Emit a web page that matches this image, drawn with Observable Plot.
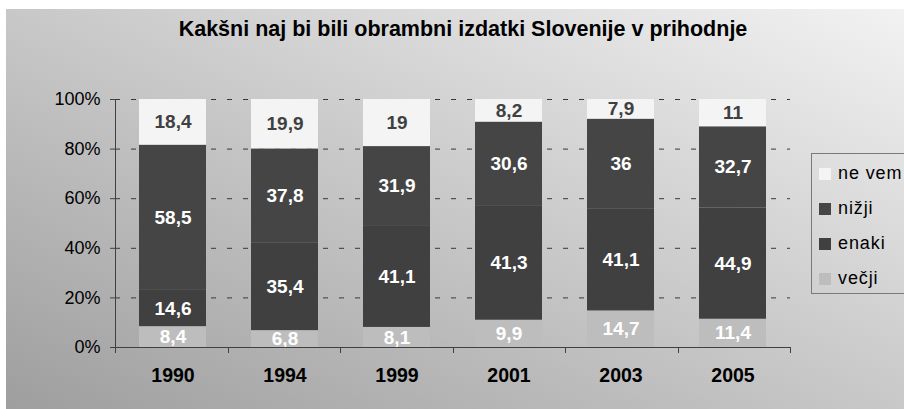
<!DOCTYPE html>
<html><head><meta charset="utf-8">
<script src="https://cdn.jsdelivr.net/npm/d3@7"></script>
<script src="https://cdn.jsdelivr.net/npm/@observablehq/plot@0.6"></script>
<style>
html,body{margin:0;padding:0;background:#fff;}
#wrap{position:relative;width:904px;height:409px;overflow:hidden;background:#fff;font-family:"Liberation Sans",Arial,sans-serif;}
#bg{position:absolute;left:6px;top:9px;width:898px;height:400px;background:linear-gradient(to top right,#9e9e9e,#f2f2f2);}
#title{position:absolute;left:22px;width:882px;top:19px;text-align:center;font-weight:bold;font-size:21.5px;line-height:21px;color:#000;white-space:nowrap;}
#chart{position:absolute;left:0;top:0;}
#legend{position:absolute;left:811px;top:153px;width:110px;height:141px;border:1px solid #7a7a7a;box-sizing:border-box;}
.item{position:absolute;left:7px;height:20px;line-height:20px;font-size:18px;letter-spacing:0.9px;color:#000;white-space:nowrap;}
.sw{display:inline-block;width:12px;height:12px;margin-right:7px;vertical-align:-1px;}
</style>
</head><body>
<div id="wrap">
  <div id="bg"></div>
  <div id="chart"></div>
  <div id="title">Kakšni naj bi bili obrambni izdatki Slovenije v prihodnje</div>
  <div id="legend"></div>
</div>
<script>
const years = ["1990", "1994", "1999", "2001", "2003", "2005"];
const series = ["večji", "enaki", "nižji", "ne vem"];
const vecji = [8.4, 6.8, 8.1, 9.9, 14.7, 11.4];
const enaki = [14.6, 35.4, 41.1, 41.3, 41.1, 44.9];
const nizji = [58.5, 37.8, 31.9, 30.6, 36, 32.7];
const neVem = [18.4, 19.9, 19, 8.2, 7.9, 11];
const seriesColors = ["#bdbdbd", "#404040", "#454545", "#f4f4f4"];
const labelColors = ["#ffffff", "#ffffff", "#ffffff", "#404040"];
const yTicks = [0, 20, 40, 60, 80, 100];
const legendOrder = ["ne vem", "nižji", "enaki", "večji"];

const values = [vecji, enaki, nizji, neVem];
const rows = [];
series.forEach((s, si) => {
  years.forEach((y, yi) => {
    rows.push({year: y, series: s, value: values[si][yi], color: seriesColors[si], labelColor: labelColors[si]});
  });
});
const fmt = v => String(v).replace(".", ",");

const axisFrame = (index, scales, vals, dims) => {
  const {width, height, marginLeft, marginRight, marginTop, marginBottom} = dims;
  const g = d3.create("svg:g").attr("stroke", "#404040").attr("stroke-width", 1);
  const n = years.length;
  const step = (width - marginLeft - marginRight) / n;
  const y0 = height - marginBottom;
  g.append("line").attr("x1", marginLeft + 0.5).attr("x2", marginLeft + 0.5).attr("y1", marginTop).attr("y2", y0);
  for (let k = 0; k <= n; k++) {
    const x = Math.round(marginLeft + k * step) + 0.5;
    g.append("line").attr("x1", x).attr("x2", x).attr("y1", y0).attr("y2", y0 + 6);
  }
  return g.node();
};

const chart = Plot.plot({
  width: 904,
  height: 409,
  marginLeft: 115,
  marginRight: 114,
  marginTop: 99,
  marginBottom: 62,
  style: {background: "transparent", fontFamily: "'Liberation Sans', Arial, sans-serif", color: "#000"},
  x: {domain: years, paddingInner: 0.4, paddingOuter: 0.2, label: null},
  y: {domain: [0, 1], label: null},
  color: {type: "identity"},
  marks: [
    Plot.ruleY(yTicks.filter(t => t > 0).map(t => t / 100), {stroke: "#383838", strokeDasharray: "5,11"}),
    Plot.barY(rows, Plot.stackY({x: "year", y: "value", fill: "color", offset: "normalize"})),
    Plot.text(rows, Plot.stackY({x: "year", y: "value", text: d => fmt(d.value), fill: "labelColor", offset: "normalize", fontSize: 19, fontWeight: "bold"})),
    Plot.ruleY([0], {stroke: "#404040"}),
    Plot.axisY({ticks: yTicks.map(t => t / 100), tickFormat: d => Math.round(d * 100) + "%", tickSize: 5, tickPadding: 10, fontSize: 18, stroke: "#404040"}),
    Plot.axisX({tickSize: 0, tickPadding: 21, fontSize: 19.5, fontWeight: "bold"}),
    axisFrame
  ]
});
document.getElementById("chart").appendChild(chart);

const legend = document.getElementById("legend");
legendOrder.forEach((s, i) => {
  const si = series.indexOf(s);
  const item = document.createElement("div");
  item.className = "item";
  item.style.top = (9 + 35 * i) + "px";
  const sw = document.createElement("span");
  sw.className = "sw";
  sw.style.background = seriesColors[si];
  item.appendChild(sw);
  item.appendChild(document.createTextNode(s));
  legend.appendChild(item);
});
</script>
</body></html>
